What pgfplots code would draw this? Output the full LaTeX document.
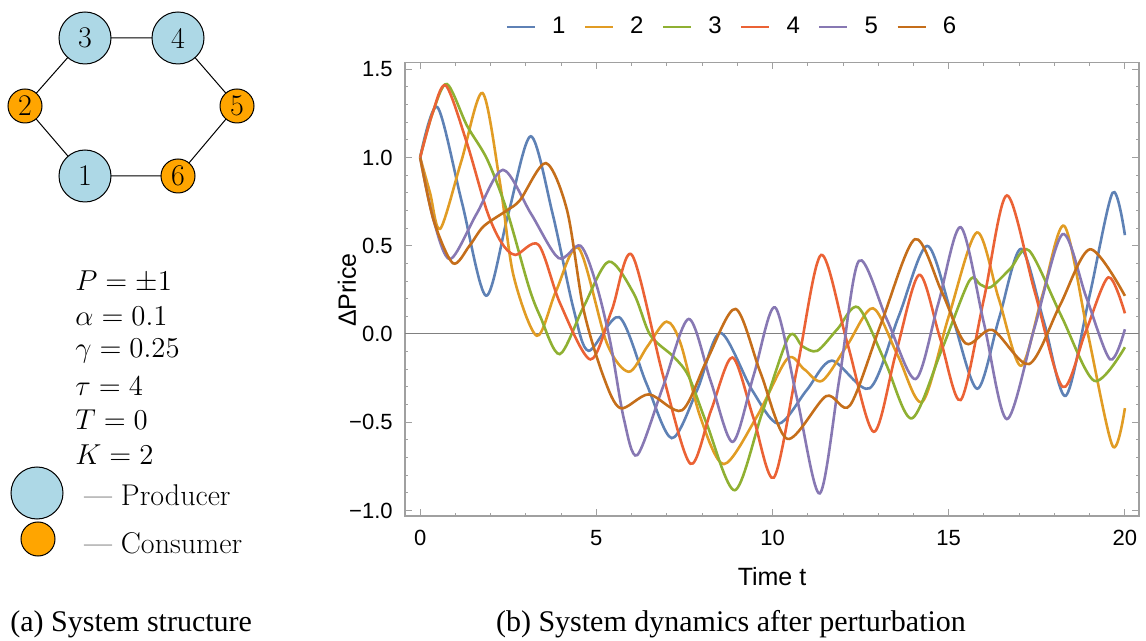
\documentclass[border=0pt]{standalone}
\usepackage{pgfplots}
\pgfplotsset{compat=1.18}
\usepackage{fontspec}
\newfontfamily\sansf{Liberation Sans}
\newfontfamily\capf{Liberation Serif}
\definecolor{c1}{HTML}{5E81B5}
\definecolor{c2}{HTML}{E19C24}
\definecolor{c3}{HTML}{8FB032}
\definecolor{c4}{HTML}{EB6235}
\definecolor{c5}{HTML}{8778B3}
\definecolor{c6}{HTML}{C56E1A}
\definecolor{framegray}{HTML}{A0A0A0}
\definecolor{zerogray}{HTML}{808080}
\definecolor{prodblue}{HTML}{ADD8E6}
\definecolor{consorange}{HTML}{FFA500}
\begin{document}
\begin{tikzpicture}
\useasboundingbox (0,0) rectangle (573pt,320.5pt);
% ---------------- left panel (pixel coordinates) ----------------
\begin{axis}[at={(0pt,0pt)}, anchor=south west, scale only axis,
  width=150pt, height=320.5pt, xmin=0, xmax=300, ymin=0, ymax=641,
  y dir=reverse, hide axis, clip=false]
\addplot[black, line width=0.5pt] coordinates {(85,38) (178,38) (237,106) (178,176) (85,176) (25,106) (85,38)};
\addplot[only marks, mark=*, mark size=13pt, mark options={fill=prodblue, draw=black, line width=0.5pt}]
  coordinates {(85,38) (178,38) (85,176) (37,493)};
\addplot[only marks, mark=*, mark size=8.5pt, mark options={fill=consorange, draw=black, line width=0.5pt}]
  coordinates {(25,106) (237,106) (178,176) (38,539)};
\coordinate (n3) at (axis cs:85,38);
\coordinate (n4) at (axis cs:178,38);
\coordinate (n2) at (axis cs:25,106);
\coordinate (n5) at (axis cs:237,106);
\coordinate (n1) at (axis cs:85,176);
\coordinate (n6) at (axis cs:178,176);
\begin{scope}[every node/.style={font=\fontsize{15}{18}\selectfont, inner sep=0pt}]
\node[anchor=west] at (axis cs:75,282) {$P=\pm1$};
\node[anchor=west] at (axis cs:75,316) {$\alpha=0.1$};
\node[anchor=west] at (axis cs:75,351) {$\gamma=0.25$};
\node[anchor=west] at (axis cs:75,386) {$\tau=4$};
\node[anchor=west] at (axis cs:75,420) {$T=0$};
\node[anchor=west] at (axis cs:75,455) {$K=2$};
\node[anchor=west] at (axis cs:84,495) {\textemdash\ Producer};
\node[anchor=west] at (axis cs:84,543) {\textemdash\ Consumer};
\end{scope}
\node[anchor=base west, inner sep=0pt, font=\capf\fontsize{15}{18}\selectfont] at (axis cs:10,631) {(a) System structure};
\node[anchor=base, inner sep=0pt, font=\capf\fontsize{15}{18}\selectfont] at (axis cs:731,631) {(b) System dynamics after perturbation};
\end{axis}
\begin{scope}[every node/.style={font=\fontsize{15}{18}\selectfont, inner sep=0pt}]
\node at (n3) {3};
\node at (n4) {4};
\node at (n2) {2};
\node at (n5) {5};
\node at (n1) {1};
\node at (n6) {6};
\end{scope}
% ---------------- right panel ----------------
\begin{axis}[at={(202.5pt,62.5pt)}, anchor=south west, scale only axis,
  width=367pt, height=226.65pt,
  xmin=-0.43, xmax=20.4, ymin=-1.031, ymax=1.537,
  axis line style={framegray, line width=0.6pt},
  tick style={framegray, line width=0.5pt},
  major tick length=3.3pt, minor tick length=1.7pt, tick align=inside,
  xtick={0,5,10,15,20}, xticklabels={0,5,10,15,20}, minor x tick num=4,
  ytick={-1,-0.5,0,0.5,1,1.5}, yticklabels={−1.0,−0.5,0.0,0.5,1.0,1.5}, minor y tick num=4,
  ticklabel style={font=\sansf\fontsize{11}{13}\selectfont, inner sep=0pt},
  xticklabel style={yshift=-7pt},
  yticklabel style={xshift=-6pt},
  xlabel={Time t}, ylabel={ΔPrice},
  label style={font=\sansf\fontsize{12.5}{15}\selectfont},
  xlabel style={at={(axis description cs:0.5,-0.1346)}, anchor=center},
  ylabel style={at={(axis description cs:-0.079,0.4986)}, anchor=center, rotate=0},
  legend style={draw=none, fill=none, at={(0.444,1.079)}, anchor=center,
    legend columns=6, font=\sansf\fontsize{12}{14}\selectfont,
    nodes={inner sep=0pt},
    /tikz/every odd column/.append style={column sep=8pt},
    /tikz/every even column/.append style={column sep=9.2pt}},
  legend image code/.code={\draw[#1, line width=1.2pt] (0pt,0pt) -- (14pt,0pt);},
  every axis plot/.append style={line width=1.3pt, smooth}]
\addplot[zerogray, line width=0.5pt, sharp plot, forget plot] coordinates {(-0.43,0) (20.4,0)};
\addplot[c1] coordinates {(0,1.0) (0.49,1.285) (1.18,0.75) (1.87,0.217) (2.5,0.68) (3.14,1.12) (3.76,0.68) (4.36,0.136) (4.78,-0.095) (5.65,0.095) (6.42,-0.28) (7.14,-0.59) (7.86,-0.318) (8.52,0.006) (9.42,-0.318) (10.17,-0.508) (10.97,-0.318) (11.68,-0.151) (12.76,-0.307) (13.58,0.10) (14.39,0.499) (15.1,0.10) (15.81,-0.31) (16.43,0.09) (17.05,0.482) (17.7,0.07) (18.32,-0.35) (19.0,0.22) (19.65,0.80) (20.0,0.56)};
\addplot[c2] coordinates {(0,1) (0.28,0.80) (0.57,0.596) (1.17,0.98) (1.77,1.365) (2.27,0.85) (2.65,0.33) (3.31,-0.01) (3.85,0.24) (4.5,0.486) (5.3,-0.053) (5.92,-0.214) (6.45,-0.07) (6.99,0.07) (7.39,-0.053) (7.95,-0.47) (8.62,-0.737) (9.55,-0.47) (10.42,-0.14) (10.9,-0.2) (11.41,-0.265) (12.13,-0.06) (12.85,0.146) (13.55,-0.12) (14.25,-0.384) (15.0,0.10) (15.8,0.575) (16.42,0.20) (17.05,-0.18) (17.66,0.22) (18.28,0.612) (18.95,0.0) (19.65,-0.634) (20.0,-0.42)};
\addplot[c3] coordinates {(0,1) (0.35,1.25) (0.76,1.416) (1.33,1.18) (1.9,0.99) (2.46,0.70) (3.08,0.27) (3.41,0.098) (3.96,-0.114) (4.64,0.155) (5.35,0.41) (6.06,0.23) (6.53,-0.006) (7.2,-0.13) (7.62,-0.24) (8.13,-0.507) (8.93,-0.885) (9.7,-0.45) (10.46,-0.015) (10.85,-0.07) (11.27,-0.095) (11.85,0.03) (12.43,0.151) (13.2,-0.16) (13.95,-0.478) (14.8,-0.09) (15.58,0.30) (15.9,0.28) (16.19,0.265) (16.75,0.37) (17.28,0.473) (18.2,0.10) (19.13,-0.265) (20.0,-0.075)};
\addplot[c4] coordinates {(0,1) (0.35,1.25) (0.73,1.407) (1.33,1.08) (1.89,0.70) (2.3,0.52) (2.7,0.448) (3.36,0.505) (3.97,0.174) (4.83,-0.144) (5.44,0.136) (6.01,0.448) (6.9,-0.24) (7.67,-0.735) (8.26,-0.43) (8.86,-0.133) (9.45,-0.47) (10.04,-0.813) (10.71,-0.18) (11.38,0.448) (12.12,-0.05) (12.87,-0.554) (13.5,-0.11) (14.16,0.335) (14.75,-0.02) (15.34,-0.374) (16.0,0.2) (16.65,0.785) (17.44,0.24) (18.23,-0.299) (18.88,0.01) (19.53,0.321) (20.0,0.117)};
\addplot[c5] coordinates {(0,1) (0.38,0.646) (0.85,0.424) (1.6,0.68) (2.35,0.93) (3.15,0.68) (3.93,0.43) (4.55,0.50) (5.0,0.28) (5.4,-0.05) (5.78,-0.48) (6.16,-0.686) (6.89,-0.30) (7.62,0.085) (8.25,-0.27) (8.87,-0.611) (9.47,-0.23) (10.07,0.151) (10.7,-0.37) (11.34,-0.903) (11.9,-0.25) (12.45,0.414) (13.25,0.08) (14.06,-0.255) (14.7,0.17) (15.34,0.605) (16.0,0.06) (16.65,-0.482) (17.44,0.04) (18.23,0.565) (18.9,0.21) (19.58,-0.144) (20.0,0.027)};
\addplot[c6] coordinates {(0,1) (0.38,0.646) (0.93,0.401) (1.4,0.50) (1.8,0.61) (2.46,0.70) (2.84,0.76) (3.57,0.968) (4.17,0.70) (4.64,0.136) (5.2,-0.24) (5.68,-0.42) (6.49,-0.342) (7.43,-0.432) (8.14,-0.147) (8.95,0.142) (9.66,-0.22) (10.42,-0.594) (11.52,-0.352) (12.2,-0.404) (13.1,0.07) (14.04,0.537) (14.8,0.24) (15.48,-0.053) (16.24,0.023) (17.28,-0.17) (18.15,0.16) (19.01,0.48) (20.0,0.216)};
\legend{1,2,3,4,5,6}
\end{axis}
\end{tikzpicture}
\end{document}
